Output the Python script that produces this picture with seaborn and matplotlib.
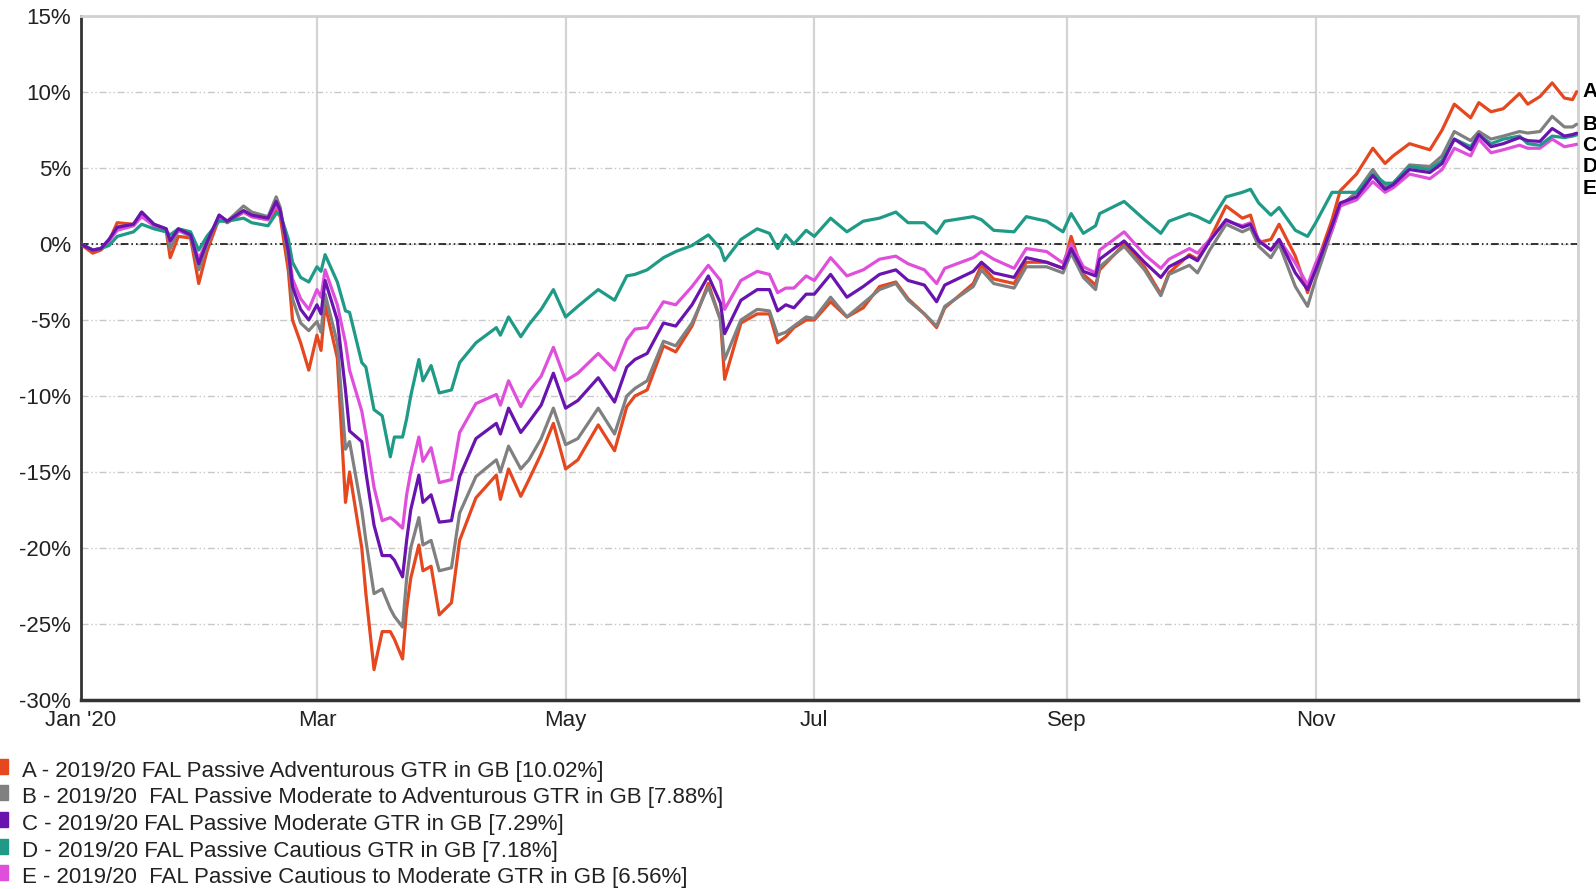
import pandas as pd
import matplotlib.pyplot as plt
from matplotlib.patches import Rectangle
import seaborn as sns

# ---------------- DATA (cumulative % return) ---------------- #
dates = [
    "2020-01-03", "2020-01-06", "2020-01-08", "2020-01-10", "2020-01-12", "2020-01-16",
    "2020-01-18", "2020-01-21", "2020-01-24", "2020-01-25", "2020-01-27", "2020-01-30",
    "2020-02-01", "2020-02-03", "2020-02-06", "2020-02-08", "2020-02-12", "2020-02-14",
    "2020-02-18", "2020-02-20", "2020-02-21", "2020-02-23", "2020-02-24", "2020-02-26",
    "2020-02-28", "2020-03-01", "2020-03-02", "2020-03-03", "2020-03-06", "2020-03-08",
    "2020-03-09", "2020-03-12", "2020-03-13", "2020-03-15", "2020-03-17", "2020-03-19",
    "2020-03-20", "2020-03-22", "2020-03-23", "2020-03-24", "2020-03-26", "2020-03-27",
    "2020-03-29", "2020-03-31", "2020-04-03", "2020-04-05", "2020-04-09", "2020-04-14",
    "2020-04-15", "2020-04-17", "2020-04-20", "2020-04-22", "2020-04-25", "2020-04-28",
    "2020-05-01", "2020-05-04", "2020-05-09", "2020-05-13", "2020-05-16", "2020-05-18",
    "2020-05-21", "2020-05-25", "2020-05-28", "2020-06-01", "2020-06-05", "2020-06-08",
    "2020-06-09", "2020-06-13", "2020-06-17", "2020-06-20", "2020-06-22", "2020-06-24",
    "2020-06-26", "2020-06-29", "2020-07-01", "2020-07-05", "2020-07-09", "2020-07-13",
    "2020-07-17", "2020-07-21", "2020-07-24", "2020-07-28", "2020-07-31", "2020-08-02",
    "2020-08-09", "2020-08-11", "2020-08-14", "2020-08-19", "2020-08-22", "2020-08-27",
    "2020-08-31", "2020-09-02", "2020-09-05", "2020-09-08", "2020-09-09", "2020-09-15",
    "2020-09-20", "2020-09-24", "2020-09-26", "2020-10-01", "2020-10-03", "2020-10-06",
    "2020-10-10", "2020-10-14", "2020-10-16", "2020-10-18", "2020-10-21", "2020-10-23",
    "2020-10-27", "2020-10-30", "2020-11-01", "2020-11-05", "2020-11-07", "2020-11-11",
    "2020-11-15", "2020-11-18", "2020-11-20", "2020-11-24", "2020-11-29", "2020-12-02",
    "2020-12-05", "2020-12-09", "2020-12-11", "2020-12-14", "2020-12-17", "2020-12-21",
    "2020-12-23", "2020-12-26", "2020-12-29", "2021-01-01", "2021-01-03", "2021-01-04",
]

fund_a = [
    0, -0.6, -0.4, 0.2, 1.4, 1.3, 2.0, 1.2, 0.9, -0.9, 0.5, 0.4,
    -2.6, -0.5, 1.7, 1.4, 2.1, 1.8, 1.6, 2.2, 1.8, -1.8, -5.0, -6.5,
    -8.3, -6.0, -7.0, -4.0, -7.5, -17.0, -15.0, -20.0, -23.0, -28.0, -25.5, -25.5,
    -26.0, -27.3, -24.0, -22.0, -19.8, -21.5, -21.2, -24.4, -23.6, -19.5, -16.7, -15.2,
    -16.8, -14.8, -16.6, -15.5, -13.8, -11.8, -14.8, -14.2, -11.9, -13.6, -10.7, -10.0,
    -9.6, -6.7, -7.1, -5.4, -2.6, -5.0, -8.9, -5.2, -4.6, -4.6, -6.5, -6.1,
    -5.5, -5.0, -5.0, -3.8, -4.8, -4.2, -2.8, -2.5, -3.6, -4.6, -5.5, -4.2,
    -2.6, -1.4, -2.3, -2.6, -1.2, -1.2, -1.6, 0.5, -2.0, -2.7, -1.7, 0.0,
    -1.5, -3.3, -1.9, -0.7, -1.0, 0.3, 2.5, 1.7, 1.9, 0.1, 0.3, 1.3,
    -0.8, -3.2, -1.5, 1.6, 3.5, 4.6, 6.3, 5.3, 5.8, 6.6, 6.2, 7.5,
    9.2, 8.3, 9.3, 8.7, 8.9, 9.9, 9.2, 9.7, 10.6, 9.6, 9.5, 10.02,
]

fund_b = [
    0, -0.4, -0.3, 0.3, 1.1, 1.3, 2.1, 1.3, 1.0, -0.3, 0.9, 0.5,
    -1.7, -0.1, 1.9, 1.5, 2.5, 2.1, 1.8, 3.1, 2.4, -1.0, -3.6, -5.2,
    -5.7, -5.1, -5.8, -3.3, -6.5, -13.5, -13.0, -17.5, -19.5, -23.0, -22.7, -24.0,
    -24.5, -25.2, -22.0, -20.0, -18.0, -19.8, -19.5, -21.5, -21.3, -17.7, -15.3, -14.2,
    -15.0, -13.3, -14.8, -14.2, -12.8, -10.8, -13.2, -12.8, -10.8, -12.5, -10.0, -9.5,
    -9.0, -6.4, -6.7, -5.2, -2.8, -5.0, -7.6, -5.0, -4.3, -4.4, -6.0, -5.8,
    -5.4, -4.8, -4.9, -3.5, -4.8, -3.9, -3.0, -2.6, -3.7, -4.6, -5.4, -4.1,
    -2.8, -1.7, -2.6, -2.9, -1.5, -1.5, -1.9, -0.6, -2.2, -3.0, -1.5, -0.15,
    -1.7, -3.4, -2.0, -1.4, -1.9, -0.4, 1.3, 0.8, 1.05, -0.15, -0.9, 0.0,
    -2.8, -4.1, -2.3, 0.9, 2.5, 3.4, 4.9, 3.8, 4.0, 5.2, 5.1, 5.8,
    7.4, 6.8, 7.4, 6.9, 7.1, 7.4, 7.3, 7.4, 8.4, 7.7, 7.7, 7.88,
]

fund_c = [
    0, -0.4, -0.3, 0.3, 1.1, 1.3, 2.1, 1.3, 1.0, 0.2, 1.0, 0.6,
    -1.3, 0.1, 1.9, 1.5, 2.2, 1.9, 1.7, 2.8, 2.2, -0.5, -2.8, -4.3,
    -5.0, -4.0, -4.6, -2.4, -5.0, -9.6, -12.3, -13.0, -15.0, -18.5, -20.5, -20.5,
    -20.8, -21.9, -19.5, -17.5, -15.2, -17.0, -16.5, -18.3, -18.2, -15.3, -12.8, -11.8,
    -12.5, -10.8, -12.4, -11.7, -10.6, -8.5, -10.8, -10.3, -8.8, -10.4, -8.1, -7.6,
    -7.2, -5.2, -5.4, -4.0, -2.1, -3.9, -5.9, -3.7, -3.0, -3.0, -4.4, -4.0,
    -4.2, -3.3, -3.3, -2.0, -3.5, -2.8, -2.0, -1.7, -2.4, -2.7, -3.8, -2.7,
    -1.8, -1.2, -1.9, -2.2, -0.9, -1.2, -1.6, -0.3, -1.8, -2.1, -1.0, 0.2,
    -1.2, -2.2, -1.5, -0.8, -1.1, 0.2, 1.6, 1.1, 1.3, 0.2, -0.4, 0.3,
    -1.9, -3.0, -1.7, 1.2, 2.7, 3.1, 4.5, 3.6, 3.9, 4.9, 4.7, 5.3,
    6.9, 6.2, 7.2, 6.4, 6.6, 7.0, 6.8, 6.75, 7.6, 7.1, 7.2, 7.29,
]

fund_d = [
    0, -0.4, -0.3, -0.1, 0.5, 0.8, 1.3, 1.0, 0.8, 0.6, 1.0, 0.8,
    -0.4, 0.5, 1.5, 1.5, 1.7, 1.4, 1.2, 2.0, 2.0, 0.3, -1.2, -2.2,
    -2.5, -1.5, -1.8, -0.7, -2.5, -4.4, -4.5, -7.8, -8.1, -10.9, -11.3, -14.0,
    -12.7, -12.7, -11.5, -10.0, -7.6, -9.0, -8.0, -9.8, -9.6, -7.8, -6.5, -5.5,
    -6.0, -4.8, -6.1, -5.3, -4.3, -3.0, -4.8, -4.1, -3.0, -3.7, -2.1, -2.0,
    -1.7, -0.9, -0.5, -0.1, 0.6, -0.3, -1.1, 0.3, 1.0, 0.7, -0.3, 0.6,
    0.0, 0.9, 0.5, 1.7, 0.8, 1.5, 1.7, 2.1, 1.4, 1.4, 0.7, 1.5,
    1.8, 1.6, 0.9, 0.8, 1.8, 1.5, 0.8, 2.0, 0.7, 1.2, 2.0, 2.8,
    1.6, 0.7, 1.5, 2.0, 1.8, 1.4, 3.1, 3.4, 3.6, 2.7, 1.9, 2.4,
    0.9, 0.5, 1.4, 3.4, 3.4, 3.4, 4.6, 4.0, 4.0, 5.1, 4.9, 5.5,
    6.9, 6.4, 7.2, 6.6, 6.9, 7.1, 6.6, 6.5, 7.1, 7.0, 7.1, 7.18,
]

fund_e = [
    0, -0.4, -0.3, 0.2, 0.9, 1.2, 1.8, 1.2, 1.0, 0.2, 0.9, 0.6,
    -1.0, 0.2, 1.8, 1.5, 2.1, 1.8, 1.6, 2.5, 2.1, -0.3, -2.3, -3.6,
    -4.3, -3.0, -3.5, -1.7, -4.0, -6.5, -8.3, -11.0, -12.5, -16.0, -18.2, -18.0,
    -18.2, -18.7, -16.5, -15.0, -12.7, -14.3, -13.4, -15.7, -15.5, -12.4, -10.5, -9.9,
    -10.6, -9.0, -10.7, -9.7, -8.7, -6.8, -9.0, -8.5, -7.2, -8.3, -6.3, -5.6,
    -5.5, -3.8, -4.0, -2.8, -1.4, -2.4, -4.3, -2.4, -1.8, -2.0, -3.2, -2.9,
    -2.9, -2.1, -2.4, -0.9, -2.1, -1.7, -1.0, -0.8, -1.3, -1.7, -2.6, -1.6,
    -0.9, -0.5, -1.0, -1.6, -0.3, -0.5, -1.25, 0.0, -1.5, -1.9, -0.4, 0.8,
    -0.7, -1.6, -1.0, -0.3, -0.6, 0.3, 1.5, 1.2, 1.4, 0.3, -0.4, 0.3,
    -1.25, -2.7, -1.25, 0.9, 2.5, 2.9, 4.1, 3.4, 3.7, 4.6, 4.3, 4.9,
    6.3, 5.8, 6.9, 6.0, 6.2, 6.5, 6.3, 6.3, 6.9, 6.4, 6.5, 6.56,
]

letters = ["A", "B", "C", "D", "E"]
fund_names = [
    "2019/20 FAL Passive Adventurous GTR in GB",
    "2019/20  FAL Passive Moderate to Adventurous GTR in GB",
    "2019/20 FAL Passive Moderate GTR in GB",
    "2019/20 FAL Passive Cautious GTR in GB",
    "2019/20  FAL Passive Cautious to Moderate GTR in GB",
]
final_returns = [10.02, 7.88, 7.29, 7.18, 6.56]
colors = ["#e5471f", "#808080", "#6a14b0", "#1e9a86", "#e04fdb"]

y_ticks = [-30, -25, -20, -15, -10, -5, 0, 5, 10, 15]
x_tick_dates = ["2020-01-03", "2020-03-01", "2020-05-01", "2020-07-01",
                "2020-09-01", "2020-11-01", "2021-01-01"]
x_tick_labels = ["Jan '20", "Mar", "May", "Jul", "Sep", "Nov", ""]

df = pd.DataFrame({
    "date": pd.to_datetime(dates),
    "A": fund_a, "B": fund_b, "C": fund_c, "D": fund_d, "E": fund_e,
})
long_df = df.melt(id_vars="date", var_name="fund", value_name="ret")

# ---------------- PLOT ---------------- #
sns.set_style("white")
plt.rcParams["font.family"] = ["Liberation Sans", "DejaVu Sans"]

W, H = 1596, 889
fig = plt.figure(figsize=(W / 100, H / 100), dpi=100)
ax = fig.add_axes([80.5 / W, 1 - 700 / H, (1578 - 80.5) / W, (700 - 16) / H])

dashdotdot = (0, (5, 2, 1, 2, 1, 2))
ax.axhline(0, color="black", lw=1.1, ls=dashdotdot, zorder=1.5)

pal = dict(zip(letters, colors))
for key in ["A", "B", "E", "D", "C"]:
    sns.lineplot(data=long_df[long_df["fund"] == key], x="date", y="ret",
                 color=pal[key], lw=2.3, ax=ax, legend=False, zorder=3)

ax.set_xlim(pd.Timestamp("2020-01-03"), pd.Timestamp("2021-01-04 08:00"))
ax.set_ylim(-30, 15)
ax.set_yticks(y_ticks)
ax.set_yticklabels([f"{v}%" for v in y_ticks])
ax.set_xticks(pd.to_datetime(x_tick_dates))
ax.set_xticklabels(x_tick_labels)
ax.set_xlabel("")
ax.set_ylabel("")

ax.grid(axis="y", color="#c8c8c8", lw=1, ls=dashdotdot)
ax.grid(axis="x", color="#d4d4d4", lw=1.6, ls="-")
ax.set_axisbelow(True)
# the year-end tick has a mark but no grid line
ax.get_xgridlines()[-1].set_visible(False)

ax.tick_params(axis="y", length=0, pad=7, labelsize=16, labelcolor="#222222")
ax.tick_params(axis="x", length=4, width=1.5, color="#333333", pad=3,
               labelsize=16, labelcolor="#222222", direction="out")

for side in ["top", "right"]:
    ax.spines[side].set_color("#d0d0d0")
    ax.spines[side].set_linewidth(2)
ax.spines["left"].set_color("#333333")
ax.spines["left"].set_linewidth(2)
ax.spines["bottom"].set_color("#333333")
ax.spines["bottom"].set_linewidth(2.5)

# end labels, stacked so they do not overlap
prev = None
for letter, val in zip(letters, final_returns):
    pos = val if prev is None else min(val, prev - 1.4)
    prev = pos
    ax.annotate(letter, xy=(1.0, pos), xycoords=("axes fraction", "data"),
                xytext=(3, 0), textcoords="offset points", ha="left", va="center",
                fontsize=15, fontweight="bold", color="black", annotation_clip=False)

# legend below the chart
for i, (letter, name, val, col) in enumerate(zip(letters, fund_names, final_returns, colors)):
    base = 776.5 + i * 26.7
    fig.add_artist(Rectangle((-7 / W, 1 - (base - 3) / H), 15 / W, 15 / H,
                             transform=fig.transFigure, color=col, clip_on=False))
    fig.text(22 / W, 1 - base / H, f"{letter} - {name} [{val:.2f}%]",
             fontsize=16, va="baseline", ha="left", color="#222222")

fig.savefig("out.png", dpi=100)
